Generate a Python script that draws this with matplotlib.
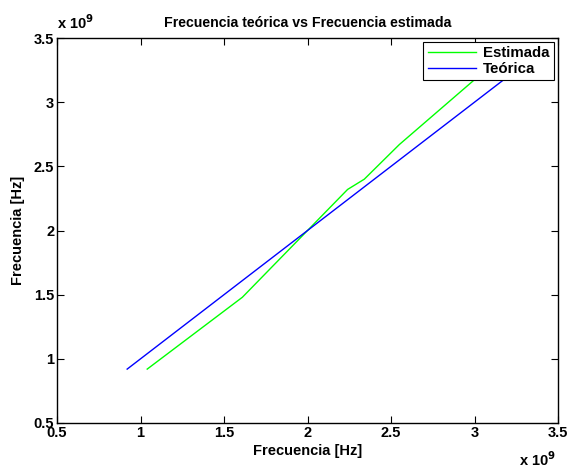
import numpy as np
import matplotlib
matplotlib.use("Agg")
import matplotlib.pyplot as plt
from matplotlib.ticker import FuncFormatter

# valores en Hz
f_est_x = [1.04e9, 1.61e9, 2.24e9, 2.34e9, 2.55e9, 3.20e9]
f_est_y = [0.92e9, 1.48e9, 2.32e9, 2.40e9, 2.67e9, 3.40e9]
f_teo_x = [0.92e9, 3.30e9]
f_teo_y = [0.92e9, 3.30e9]
ticks = [0.5e9, 1.0e9, 1.5e9, 2.0e9, 2.5e9, 3.0e9, 3.5e9]

plt.rcParams['font.family'] = ['Liberation Sans', 'DejaVu Sans']
plt.rcParams['font.weight'] = 'bold'

fig = plt.figure(figsize=(5.68, 4.70), dpi=100)
ax = fig.add_axes([0.1004, 0.1, 0.882, 0.8191])

ax.plot(f_est_x, f_est_y, color='#00ff00', lw=1.0, label='Estimada')
ax.plot(f_teo_x, f_teo_y, color='#0000ff', lw=1.0, label='Teórica')

ax.set_xlim(0.5e9, 3.5e9)
ax.set_ylim(0.5e9, 3.5e9)
ax.set_xticks(ticks)
ax.set_yticks(ticks)
fmt = FuncFormatter(lambda v, p: f"{v / 1e9:g}")
ax.xaxis.set_major_formatter(fmt)
ax.yaxis.set_major_formatter(fmt)
ax.tick_params(direction='in', length=5, width=0.8, top=True, right=True,
               labelsize=10.5, pad=2)
for lbl in ax.get_xticklabels() + ax.get_yticklabels():
    lbl.set_fontweight('bold')
for s in ax.spines.values():
    s.set_linewidth(1.0)

ax.set_title('Frecuencia teórica vs Frecuencia estimada', fontsize=10.2,
             fontweight='bold', pad=8)
ax.set_xlabel('Frecuencia [Hz]', fontsize=10.5, fontweight='bold', labelpad=3)
ax.set_ylabel('Frecuencia [Hz]', fontsize=10.5, fontweight='bold', labelpad=6)

# factor de escala estilo MATLAB
ax.text(0.0, 1.015, r'x 10$^{9}$', transform=ax.transAxes, fontsize=10.5,
        fontweight='bold', ha='left', va='bottom')
ax.text(0.995, -0.07, r'x 10$^{9}$', transform=ax.transAxes, fontsize=10.5,
        fontweight='bold', ha='right', va='top')

leg = ax.legend(loc='upper right', fontsize=10.8, fancybox=False,
                edgecolor='black', framealpha=1, borderaxespad=0.25,
                handlelength=3.2, borderpad=0.3, labelspacing=0.1,
                handletextpad=0.5)
leg.get_frame().set_linewidth(0.8)
for t in leg.get_texts():
    t.set_fontweight('bold')

fig.savefig('out.png', dpi=100)
plt.close(fig)
